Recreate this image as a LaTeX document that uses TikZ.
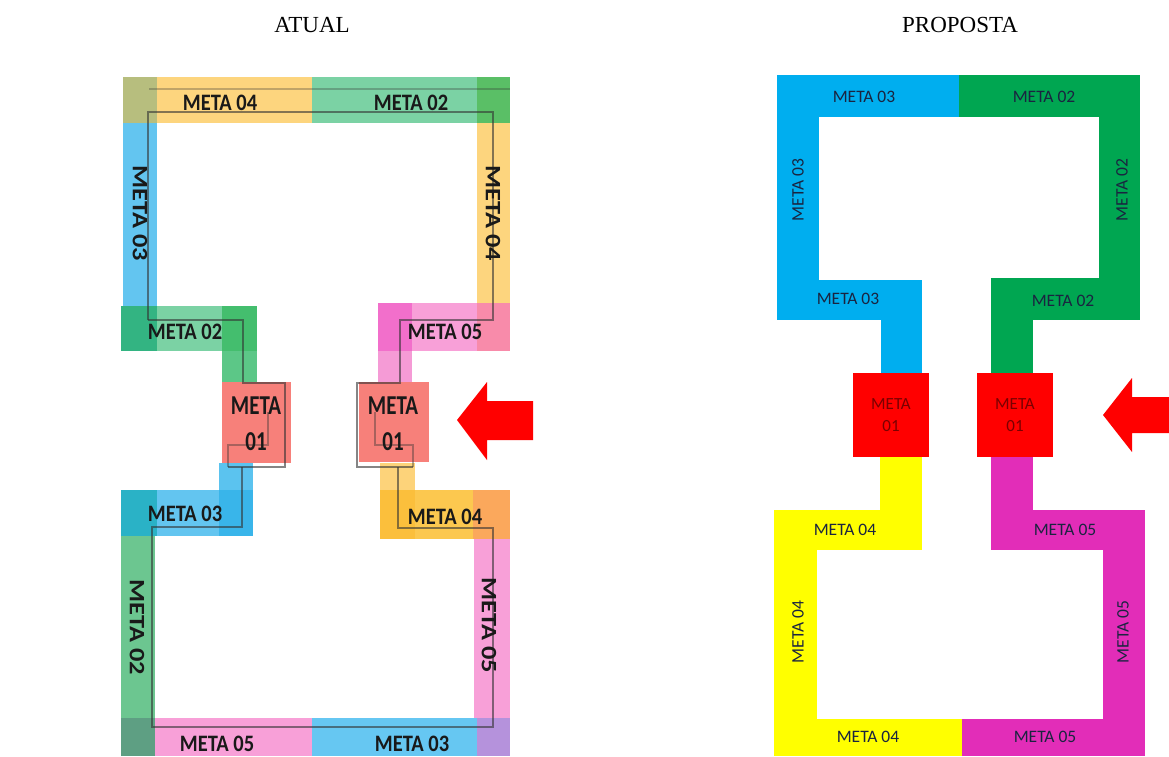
\documentclass[tikz,border=0pt]{standalone}
\usepackage{fontspec}
\setmainfont{Liberation Serif}
\newfontfamily\calfont{Carlito}
\definecolor{lolive}{HTML}{B7BE7E}
\definecolor{lblue}{HTML}{63C5F0}
\definecolor{lyellow}{HTML}{FDD57E}
\definecolor{lgreen}{HTML}{7BD2A4}
\definecolor{lgreenD}{HTML}{5ABF66}
\definecolor{lteal}{HTML}{33B482}
\definecolor{lgreenM}{HTML}{44BE6E}
\definecolor{lgreenS}{HTML}{5CC787}
\definecolor{lsalmon}{HTML}{F7807A}
\definecolor{lblueS}{HTML}{5BC3EF}
\definecolor{lcyanD}{HTML}{2AB2C6}
\definecolor{lblueM}{HTML}{39B5EA}
\definecolor{lgreenV}{HTML}{6CC690}
\definecolor{lgrayg}{HTML}{5E9F83}
\definecolor{lpink}{HTML}{F8A0D8}
\definecolor{lblueB}{HTML}{66C7F2}
\definecolor{lpurple}{HTML}{B592DC}
\definecolor{lorangeA}{HTML}{FBBF3C}
\definecolor{lorangeB}{HTML}{FCC84F}
\definecolor{lorangeC}{HTML}{FBA85C}
\definecolor{lyellowS}{HTML}{FDD37A}
\definecolor{lpinkS}{HTML}{F59BD6}
\definecolor{lmagL}{HTML}{F26FCB}
\definecolor{lpinkR}{HTML}{F88BAA}
\definecolor{rblue}{HTML}{00AEEF}
\definecolor{rgreen}{HTML}{00A651}
\definecolor{ryellow}{HTML}{FFFF00}
\definecolor{rmag}{HTML}{E22DB8}
\definecolor{rred}{HTML}{FF0000}
\definecolor{rtext}{HTML}{1A2440}
\definecolor{rtextred}{HTML}{7A0000}
\begin{document}
\begin{tikzpicture}[x=1pt,y=-1pt,
  lbl/.style={font=\calfont\bfseries\fontsize{20.5}{22}\selectfont, text=black!90, inner sep=0pt, yscale=1.15},
  vlbl/.style={font=\calfont\bfseries\fontsize{22}{24}\selectfont, text=black!90, inner sep=0pt, rotate=-90, xscale=1.2},
  boxlbl/.style={font=\calfont\bfseries\fontsize{21}{24}\selectfont, text=black!90, inner sep=0pt, align=center, yscale=1.3},
  rlbl/.style={font=\calfont\fontsize{17.5}{20}\selectfont, text=rtext, inner sep=0pt},
  rvlbl/.style={rlbl, rotate=90},
  rbox/.style={fill=rred, minimum width=76pt, minimum height=84pt, inner sep=0pt, align=center,
    font=\calfont\fontsize{17}{22}\selectfont, text=rtextred},
  ttl/.style={font=\fontsize{23}{26}\selectfont, inner sep=0pt},
  route/.style={draw=black!80, opacity=0.6, line width=1.1pt},
  arrowfill/.style={fill=rred}
]
\useasboundingbox (0,0) rectangle (1169,756);

% titles
\node[ttl] (t1) at (312,25) {ATUAL};
\node[ttl] (t2) at (960,25) {PROPOSTA};

% ===== LEFT (ATUAL) =====
\fill[lolive] (123,77) rectangle (157,123);
\fill[lblue] (123,123) rectangle (157,306);
\fill[lyellow] (157,77) rectangle (312,123);
\fill[lgreen] (312,77) rectangle (477,123);
\fill[lgreenD] (477,77) rectangle (510,123);
\fill[lyellow] (477,123) rectangle (510,303);
% META 02 band
\fill[lteal] (121,306) rectangle (157,351);
\fill[lgreen] (157,306) rectangle (222,351);
\fill[lgreenM] (222,306) rectangle (257,351);
\fill[lgreenS] (222,351) rectangle (257,382);
% META 01 left
\node[fill=lsalmon, minimum width=69pt, minimum height=81pt, inner sep=0pt] (lb1) at (256.5,422.5) {};
% blue stub and META 03 band
\fill[lblueS] (219,463) rectangle (253,490);
\fill[lcyanD] (121,490) rectangle (157,536);
\fill[lblue] (157,490) rectangle (219,536);
\fill[lblueM] (219,490) rectangle (253,536);
\fill[lgreenV] (121,536) rectangle (155,718);
% bottom band
\fill[lgrayg] (121,718) rectangle (155,756);
\fill[lpink] (155,718) rectangle (312,756);
\fill[lblueB] (312,718) rectangle (477,756);
\fill[lpurple] (477,718) rectangle (510,756);
\fill[lpink] (474,539) rectangle (510,718);
% META 04 right band
\fill[lorangeA] (380,490) rectangle (415,539);
\fill[lorangeB] (415,490) rectangle (473,539);
\fill[lorangeC] (473,490) rectangle (510,539);
\fill[lyellowS] (380,463) rectangle (415,490);
% META 01 right
\node[fill=lsalmon, minimum width=70pt, minimum height=80pt, inner sep=0pt] (lb2) at (394,422) {};
% pink stub and META 05 band
\fill[lpinkS] (378,351) rectangle (412,382);
\fill[lmagL] (378,303) rectangle (412,351);
\fill[lpink] (412,303) rectangle (477,351);
\fill[lpinkR] (477,303) rectangle (510,351);

% route lines
\draw[route, opacity=0.3] (149,89) -- (510,89);
\draw[route] (148,320) -- (148,112) -- (493,112) -- (493,320) -- (400,320) -- (400,383) -- (357,383) -- (357,467) -- (413,467);
\draw[route] (148,320) -- (243,320) -- (243,383) -- (285,383) -- (285,467) -- (228,467);
\draw[route, opacity=0.4] (268,412) -- (268,445) -- (228,445) -- (228,467);
\draw[route, opacity=0.4] (375,412) -- (375,445) -- (413,445) -- (413,467);
\draw[route] (242,467) -- (242,527) -- (152,527) -- (152,727) -- (493,727) -- (493,528) -- (398,528) -- (398,467);

% red arrow left
\fill[arrowfill] (457,420) -- (487,382) -- (487,401) -- (533,401) -- (533,440) -- (487,440) -- (487,460) -- cycle;

% left labels
\node[lbl] (a1) at (220,103) {META 04};
\node[lbl] (a2) at (411,103) {META 02};
\node[vlbl] (a3) at (140,213) {META 03};
\node[vlbl] (a4) at (493,213) {META 04};
\node[lbl] (a5) at (185,332) {META 02};
\node[lbl] (a6) at (445,332) {META 05};
\node[boxlbl] (a7) at (256,424) {META\\[4pt]01};
\node[boxlbl] (a8) at (393,424) {META\\[4pt]01};
\node[lbl] (a9) at (185,514) {META 03};
\node[lbl] (a10) at (445,517) {META 04};
\node[vlbl] (a11) at (137,627) {META 02};
\node[vlbl] (a12) at (489,625) {META 05};
\node[lbl] (a13) at (217,744) {META 05};
\node[lbl] (a14) at (412,744) {META 03};

% ===== RIGHT (PROPOSTA) =====
\fill[rblue] (777,75) rectangle (959,117);
\fill[rgreen] (959,75) rectangle (1140,117);
\fill[rblue] (777,117) rectangle (819,320);
\fill[rblue] (819,280) rectangle (922,320);
\fill[rblue] (881,320) rectangle (922,373);
\fill[rgreen] (1099,117) rectangle (1140,320);
\fill[rgreen] (991,278) rectangle (1099,320);
\fill[rgreen] (991,320) rectangle (1033,373);
\fill[ryellow] (880,457) rectangle (922,510);
\fill[ryellow] (774,510) rectangle (922,550);
\fill[ryellow] (774,550) rectangle (817,756);
\fill[ryellow] (817,719) rectangle (962,756);
\fill[rmag] (991,457) rectangle (1033,510);
\fill[rmag] (991,510) rectangle (1145,550);
\fill[rmag] (1103,550) rectangle (1145,756);
\fill[rmag] (962,719) rectangle (1103,756);
\node[rbox] (rb1) at (891,415) {META\\01};
\node[rbox] (rb2) at (1015,415) {META\\01};

% red arrow right
\fill[arrowfill] (1103,415) -- (1132,378) -- (1132,397) -- (1169,397) -- (1169,433) -- (1132,433) -- (1132,452) -- cycle;

% right labels
\node[rlbl] (p1) at (864,97) {META 03};
\node[rlbl] (p2) at (1044,97) {META 02};
\node[rvlbl] (p3) at (798,190) {META 03};
\node[rvlbl] (p4) at (1122,190) {META 02};
\node[rlbl] (p5) at (848,299) {META 03};
\node[rlbl] (p6) at (1063,301) {META 02};
\node[rlbl] (p7) at (845,530) {META 04};
\node[rlbl] (p8) at (1065,530) {META 05};
\node[rvlbl] (p9) at (798,632) {META 04};
\node[rvlbl] (p10) at (1123,632) {META 05};
\node[rlbl] (p11) at (868,737) {META 04};
\node[rlbl] (p12) at (1045,737) {META 05};
\end{tikzpicture}
\end{document}
